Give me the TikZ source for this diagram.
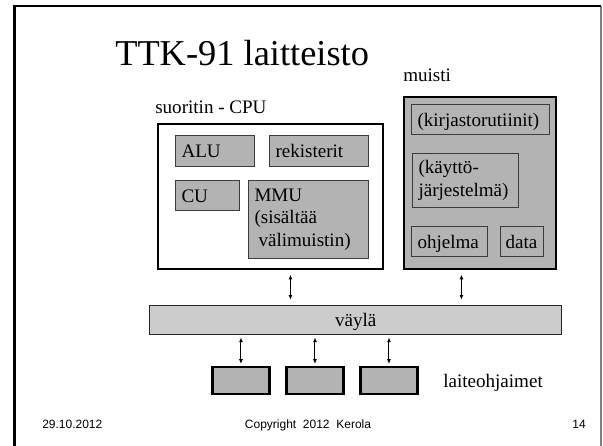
\documentclass[tikz,border=0pt]{standalone}
\usepackage{fontspec}
\setmainfont{Liberation Serif}
\newfontfamily\footfont{Liberation Sans}
\usetikzlibrary{arrows.meta, positioning}
\definecolor{BoxGray}{RGB}{179,179,179}
\definecolor{BusGray}{RGB}{204,204,204}
\definecolor{EdgeGray}{RGB}{60,60,60}
\tikzset{
  part/.style 2 args={draw=EdgeGray, fill=BoxGray, line width=0.75pt, anchor=north west,
    inner xsep=4.5pt, inner ysep=0pt, align=left, text width=#1, minimum height=#2},
  oneline/.style={text height=9.8pt, text depth=0pt},
  unit/.style 2 args={draw=black, line width=2.2pt, anchor=north west, inner sep=0pt,
    minimum width=#1, minimum height=#2},
  link/.style={{Latex[length=3.5pt,width=3pt]}-{Latex[length=3.5pt,width=3pt]}, line width=0.75pt},
  tag/.style={anchor=base west, inner sep=0pt},
  foot/.style={anchor=base, inner sep=0pt, font=\footfont\fontsize{9}{11}\selectfont}
}
\begin{document}
\begin{tikzpicture}[x=0.75pt, y=-0.75pt, font=\fontsize{14.3}{17}\selectfont]
  \useasboundingbox (0,0) rectangle (603,446);
  % slide frame
  \draw[gray, line width=0.8pt] (601,6) -- (601,446);
  \draw[line width=1.6pt] (14.5,6) -- (601,6);
  \draw[line width=2.1pt] (14.5,446) -- (14.5,5.2);
  \node[tag, font=\fontsize{27.3}{32}\selectfont] (title) at (115,65) {TTK-91 laitteisto};
  % cpu and memory
  \node[unit={168.75pt}{108.75pt}, fill=white] (cpu) at (156.5,122.5) {};
  \node[unit={114pt}{129pt}, fill=BoxGray] (mem) at (402.5,95.5) {};
  \node[tag] (cpulabel) at (155,113) {suoritin - CPU};
  \node[tag] (memlabel) at (403,81) {muisti};
  \node[part={50.25pt}{23.25pt}, oneline] (alu) at (175,135) {ALU};
  \node[part={65.25pt}{23.25pt}, oneline] (reg) at (269,135) {rekisterit};
  \node[part={39pt}{22.5pt}, oneline] (cu) at (175,180) {CU};
  \node[part={81pt}{58.5pt}] (mmu) at (248,180) {MMU\\(sisältää\\\hspace{3pt}välimuistin)};
  \node[part={94.5pt}{22.5pt}, oneline] (lib) at (411,104) {(kirjastorutiinit)};
  \node[part={70.5pt}{40.5pt}] (os) at (412,153) {(käyttö-\\järjestelmä)};
  \node[part={48pt}{22.5pt}, oneline] (prog) at (411,226) {ohjelma};
  \node[part={24.75pt}{22.5pt}, oneline, inner xsep=3.75pt] (data) at (500,226) {data};
  % bus and device controllers
  \node[draw=black!85, fill=BusGray, line width=1.1pt, anchor=north west, inner sep=0pt,
    minimum width=309pt, minimum height=21.75pt, oneline] (bus) at (149,305) {väylä};
  \foreach \i/\x in {1/211, 2/285, 3/359}
    \node[unit={42.75pt}{20.25pt}, fill=BoxGray] (dev\i) at (\x,365.5) {};
  \node[tag] (devlabel) at (443,387) {laiteohjaimet};
  % connections
  \coordinate (cpuport) at ([xshift=15pt]cpu.south);
  \coordinate (memport) at ([xshift=-13.9pt]mem.south);
  \draw[link, shorten <=3.2pt, shorten >=4pt] (cpuport) -- (cpuport |- bus.north);
  \draw[link, shorten <=3.2pt, shorten >=4pt] (memport) -- (memport |- bus.north);
  \foreach \i in {1,2,3}
    \draw[link, shorten <=1.2pt, shorten >=1.5pt] (dev\i.north) -- (dev\i.north |- bus.south);
  % footer
  \node[foot, anchor=base west] (date) at (42,428) {29.10.2012};
  \node[foot] (copy) at (308,428) {Copyright\ \ 2012\ \ Kerola};
  \node[foot, anchor=base east] (page) at (586,428) {14};
\end{tikzpicture}
\end{document}
